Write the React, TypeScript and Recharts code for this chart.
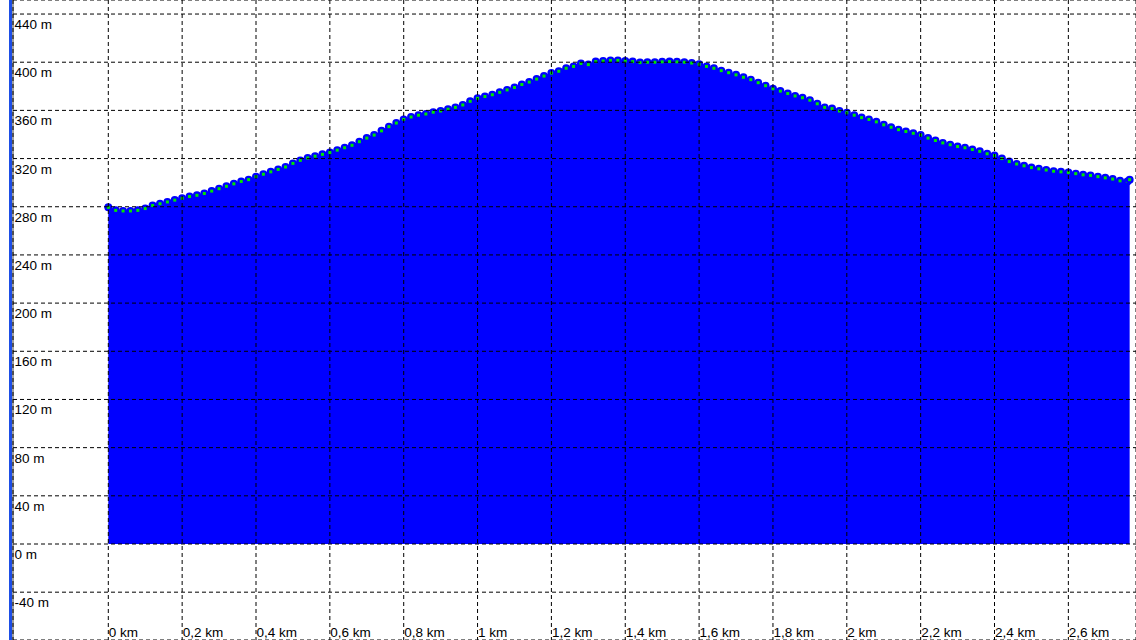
import React from 'react';
import { ComposedChart, Area, XAxis, YAxis, CartesianGrid } from 'recharts';

// Distance along the track (km)
const distanceKm = [
  0.0, 0.02, 0.04, 0.06, 0.08, 0.1, 0.12, 0.14, 0.16, 0.18,
  0.2, 0.22, 0.24, 0.26, 0.28, 0.3, 0.32, 0.34, 0.36, 0.38,
  0.4, 0.42, 0.44, 0.46, 0.48, 0.5, 0.52, 0.54, 0.56, 0.58,
  0.6, 0.62, 0.64, 0.66, 0.68, 0.7, 0.72, 0.74, 0.76, 0.78,
  0.8, 0.82, 0.84, 0.86, 0.88, 0.9, 0.92, 0.94, 0.96, 0.98,
  1.0, 1.02, 1.04, 1.06, 1.08, 1.1, 1.12, 1.14, 1.16, 1.18,
  1.2, 1.22, 1.24, 1.26, 1.28, 1.3, 1.32, 1.34, 1.36, 1.38,
  1.4, 1.42, 1.44, 1.46, 1.48, 1.5, 1.52, 1.54, 1.56, 1.58,
  1.6, 1.62, 1.64, 1.66, 1.68, 1.7, 1.72, 1.74, 1.76, 1.78,
  1.8, 1.82, 1.84, 1.86, 1.88, 1.9, 1.92, 1.94, 1.96, 1.98,
  2.0, 2.02, 2.04, 2.06, 2.08, 2.1, 2.12, 2.14, 2.16, 2.18,
  2.2, 2.22, 2.24, 2.26, 2.28, 2.3, 2.32, 2.34, 2.36, 2.38,
  2.4, 2.42, 2.44, 2.46, 2.48, 2.5, 2.52, 2.54, 2.56, 2.58,
  2.6, 2.62, 2.64, 2.66, 2.68, 2.7, 2.72, 2.74, 2.76, 2.766,
];

// Elevation (m)
const elevationM = [
  279.5, 277, 276.5, 276.5, 277, 278.5, 281, 282.5, 284, 285.5,
  287, 288.5, 289.5, 291, 293, 295, 297, 299, 301, 302.5,
  305, 307, 309, 311, 313, 316, 318.5, 320.5, 322, 323.5,
  325, 327, 329, 331, 334, 337, 339.5, 343, 346.5, 349.5,
  352.5, 354.5, 356, 357, 358.5, 359.5, 361, 362.5, 364.5, 367.5,
  370, 371.5, 373, 375, 377, 379, 381.5, 383.5, 386, 388.5,
  391, 392.5, 395, 396.5, 399, 398, 400.5, 401, 401.5, 401.5,
  401, 400.5, 399.7, 400, 400, 400.3, 400.5, 400.3, 400, 399.3,
  398.3, 396.5, 395, 393, 391.3, 389.5, 387.5, 385.5, 383, 380.5,
  378, 376, 374, 372, 370.5, 368.5, 365.5, 362.5, 361.5, 359.5,
  358, 356, 354, 352.5, 350.5, 348, 346, 344, 342.5, 341,
  339.5, 337, 335, 333, 331.5, 330, 329, 327.5, 326, 324,
  322.5, 320, 317.5, 315.5, 314, 312.5, 311.5, 310.5, 309.5, 309,
  308.5, 307.5, 306.5, 306, 305, 304, 303, 301.5, 301, 302.5,
];

const xTickValues = [0, 0.2, 0.4, 0.6, 0.8, 1, 1.2, 1.4, 1.6, 1.8, 2, 2.2, 2.4, 2.6];
const xTickLabels = ['0 km', '0,2 km', '0,4 km', '0,6 km', '0,8 km', '1 km', '1,2 km', '1,4 km', '1,6 km', '1,8 km', '2 km', '2,2 km', '2,4 km', '2,6 km'];
const yTickValues = [-40, 0, 40, 80, 120, 160, 200, 240, 280, 320, 360, 400, 440];
const yTickLabels = ['-40 m', '0 m', '40 m', '80 m', '120 m', '160 m', '200 m', '240 m', '280 m', '320 m', '360 m', '400 m', '440 m'];

const data = distanceKm.map((km, i) => ({ km, elev: elevationM[i] }));

const FONT = '"Liberation Sans", Arial, sans-serif';

const XTick = (props: any) => {
  const { x, payload } = props;
  const i = xTickValues.indexOf(payload.value);
  return (
    <text x={x + 0.5} y={637} fontSize={13.5} fontFamily={FONT} fill="#000" textAnchor="start">
      {xTickLabels[i]}
    </text>
  );
};

const YTick = (props: any) => {
  const { y, payload } = props;
  const i = yTickValues.indexOf(payload.value);
  return (
    <text x={14.5} y={y + 15} fontSize={13.5} fontFamily={FONT} fill="#000" textAnchor="start">
      {yTickLabels[i]}
    </text>
  );
};

const renderDot = (props: any) => {
  const { cx, cy, index } = props;
  if (cx == null || cy == null) return <g key={`d${index}`} />;
  return (
    <g key={`d${index}`}>
      <circle cx={cx} cy={cy} r={4} fill="#0000ff" />
      <rect x={cx - 1.5} y={cy - 1.5} width={3} height={3} fill="#00e600" />
    </g>
  );
};

export default function App() {
  return (
    <div style={{ position: 'absolute', left: 0, top: 0, width: 1136, height: 640, background: '#fff', overflow: 'hidden' }}>
      <div style={{ position: 'absolute', left: 9, top: 0, width: 4, height: 640, background: '#1d4ee6' }} />
      <div style={{ position: 'absolute', left: 0, top: 0 }}>
        <ComposedChart width={1136} height={640} data={data} margin={{ top: 0, right: 0, bottom: 0, left: 13 }}>
          <XAxis
            dataKey="km"
            type="number"
            domain={[-0.2581, 2.7832]}
            allowDataOverflow
            ticks={xTickValues}
            interval={0}
            mirror
            axisLine={false}
            tickLine={false}
            tick={XTick}
          />
          <YAxis
            type="number"
            domain={[-79.7, 451.65]}
            allowDataOverflow
            ticks={yTickValues}
            interval={0}
            mirror
            axisLine={{ stroke: '#a0a0a0', strokeWidth: 2 }}
            tickLine={false}
            tick={YTick}
          />
          <Area
            dataKey="elev"
            type="linear"
            fill="#0000ff"
            fillOpacity={1}
            stroke="#0000ff"
            baseValue={0}
            isAnimationActive={false}
            dot={renderDot}
            activeDot={false}
          />
          <CartesianGrid stroke="#000" strokeDasharray="4 3" zIndex={1000} />
        </ComposedChart>
      </div>
    </div>
  );
}
